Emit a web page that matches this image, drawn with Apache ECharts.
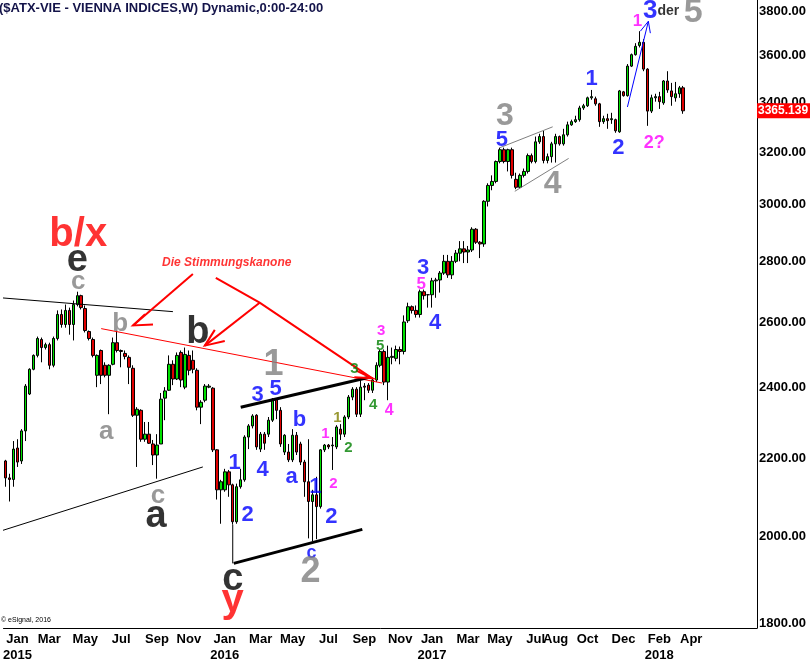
<!DOCTYPE html>
<html><head><meta charset="utf-8">
<script src="https://cdn.jsdelivr.net/npm/echarts@6/dist/echarts.min.js"></script>
<style>html,body{margin:0;padding:0;background:#fff}#c{width:810px;height:663px}</style>
</head><body><div id="c"></div>
<script>
// ---- data (weekly candles, $ATX-VIE) ----
const startWeek = '2014-12-15';
const weekCount = 189;
const opens = [2194,2149,2145,2229,2194,2276,2381,2454,2496,2545,2520,2529,2466,2548,2624,2592,2637,2592,2656,2685,
2643,2570,2545,2436,2511,2466,2436,2469,2535,2511,2502,2490,2457,2320,2334,2253,2267,2240,2210,2240,
2369,2392,2469,2425,2505,2401,2496,2481,2451,2343,2363,2401,2398,2224,2118,2118,2165,2131,2037,2126,
2144,2259,2290,2320,2226,2267,2267,2306,2366,2334,2218,2218,2197,2264,2240,2191,2139,2088,2105,2075,
2224,2237,2235,2232,2281,2267,2315,2372,2395,2323,2404,2407,2392,2422,2466,2508,2416,2490,2487,2514,
2508,2604,2649,2637,2624,2698,2688,2688,2734,2737,2760,2800,2754,2800,2828,2843,2832,2839,2912,2866,
2860,3013,3072,3087,3163,3209,3163,3209,3095,3065,3110,3125,3186,3163,3240,3261,3167,3182,3232,3261,
3232,3268,3308,3321,3329,3377,3386,3419,3415,3394,3321,3333,3329,3329,3280,3444,3428,3554,3604,3645,
3659,3541,3364,3419,3424,3398,3490,3448,3419,3436,3461];
const closes = [2149,2145,2226,2191,2276,2404,2454,2496,2548,2520,2529,2466,2548,2624,2592,2637,2592,2656,2685,2646,
2573,2548,2496,2496,2436,2436,2466,2535,2511,2508,2493,2460,2320,2337,2253,2267,2242,2210,2237,2366,
2390,2469,2425,2496,2422,2499,2451,2454,2343,2357,2404,2404,2224,2118,2139,2165,2131,2037,2126,2144,
2259,2290,2318,2232,2267,2242,2306,2366,2334,2240,2264,2197,2264,2218,2191,2139,2088,2105,2075,2224,
2237,2232,2237,2287,2267,2315,2372,2395,2323,2401,2401,2392,2422,2466,2508,2416,2490,2493,2514,2508,
2600,2649,2637,2624,2698,2685,2688,2734,2737,2760,2800,2754,2800,2828,2843,2832,2839,2912,2866,2860,
3013,3072,3087,3163,3209,3163,3209,3110,3065,3110,3125,3186,3163,3240,3261,3167,3182,3232,3261,3232,
3268,3308,3321,3329,3377,3386,3419,3424,3394,3321,3333,3325,3333,3284,3448,3428,3554,3604,3641,3659,
3541,3364,3419,3424,3403,3490,3452,3424,3436,3461,3365.139];
const lows = [2126,2088,2126,2178,2186,2248,2378,2451,2490,2475,2514,2454,2460,2542,2582,2582,2560,2542,2650,2640,
2567,2542,2490,2401,2410,2430,2323,2466,2505,2460,2484,2410,2315,2178,2246,2246,2240,2183,2147,2240,
2306,2390,2407,2422,2401,2395,2436,2442,2334,2295,2357,2398,2218,2093,2032,2113,2100,2030,2032,2121,
2139,2226,2283,2224,2218,2224,2259,2301,2309,2232,2210,2191,2191,2210,2183,2100,1996,1989,1994,2070,
2218,2226,2170,2226,2251,2259,2309,2363,2315,2315,2363,2384,2384,2416,2460,2407,2363,2469,2478,2469,
2499,2597,2627,2614,2614,2672,2646,2646,2678,2695,2754,2744,2740,2794,2800,2794,2794,2832,2860,2811,
2850,2994,3054,3080,3156,3156,3125,3098,3058,3061,3102,3117,3156,3156,3232,3156,3156,3159,3159,3225,
3225,3261,3304,3316,3321,3369,3381,3411,3386,3300,3312,3292,3312,3276,3276,3424,3424,3550,3600,3636,
3532,3304,3356,3403,3373,3390,3440,3386,3403,3419,3353];
const highs = [2197,2160,2248,2253,2281,2410,2457,2499,2554,2551,2535,2535,2554,2637,2640,2656,2646,2669,2698,2688,
2653,2573,2551,2499,2514,2475,2469,2551,2573,2514,2511,2496,2466,2343,2337,2301,2301,2251,2267,2384,
2401,2496,2481,2505,2511,2520,2511,2511,2457,2363,2410,2410,2401,2226,2144,2173,2170,2134,2134,2173,
2264,2295,2323,2323,2273,2273,2315,2369,2369,2343,2267,2240,2281,2273,2246,2197,2253,2118,2152,2226,
2240,2240,2259,2292,2295,2320,2378,2401,2401,2430,2413,2413,2430,2475,2514,2514,2526,2520,2526,2523,
2621,2662,2653,2653,2705,2705,2690,2744,2744,2767,2822,2822,2818,2839,2870,2870,2853,2919,2916,2870,
3017,3080,3110,3167,3217,3217,3213,3217,3120,3117,3136,3194,3194,3261,3272,3284,3194,3240,3272,3265,
3292,3321,3329,3345,3386,3394,3424,3452,3424,3398,3345,3353,3357,3333,3452,3448,3563,3609,3655,3709,
3673,3545,3432,3436,3444,3494,3532,3482,3486,3469,3469];
const lastPrice = 3365.139;
const yTicks = [1800,2000,2200,2400,2600,2800,3000,3200,3400,3600,3800];
const xTickLabels = [[3,'Jan\n2015'],[11,'Mar'],[20,'May'],[29,'Jul'],[38,'Sep'],[46,'Nov'],
  [55,'Jan\n2016'],[64,'Mar'],[72,'May'],[81,'Jul'],[90,'Sep'],[99,'Nov'],
  [107,'Jan\n2017'],[116,'Mar'],[124,'May'],[133,'Jul'],[138,'Aug'],[146,'Oct'],[155,'Dec'],
  [164,'Feb\n2018'],[172,'Apr']];

// ---- annotations (week index, price) ----
const BLUE='#0000ff', MAG='#ff00ff', GREY='#808080', GRN='#008000', OLV='#808000', RED='#ff0000', BLK='#000000';
const notes = [
  [18.25,2891,'b/x',RED,40],[18,2804,'e',BLK,38],[18.25,2731,'c',GREY,26],[28.75,2595,'b',GREY,26],
  [48.25,2566,'b',BLK,38],[25.25,2273,'a',GREY,26],[38.25,2103,'c',GREY,26],[37.75,2050,'a',BLK,38],
  [67.25,2466,'1',GREY,36],[63.25,2378,'3',BLUE,22],[67.75,2395,'5',BLUE,22],[57.5,2189,'1',BLUE,22],
  [60.75,2055,'2',BLUE,22],[64.5,2170,'4',BLUE,22],[73.75,2306,'b',BLUE,22],[71.75,2152,'a',BLUE,22],
  [77.75,2126,'1',BLUE,22],[81.75,2050,'2',BLUE,22],[76.75,1960,'c',BLUE,18],[76.5,1915,'2',GREY,36],
  [57,1899,'c',BLK,38],[57,1849,'y',RED,40],
  [80.25,2267,'1',MAG,15],[82.25,2134,'2',MAG,15],[83.25,2312,'1',OLV,15],[86,2229,'2',GRN,15],
  [87.5,2454,'3',GRN,15],[92.25,2349,'4',GRN,15],[96.25,2332,'4',MAG,16],[94.25,2573,'3',MAG,15],[94,2526,'5',GRN,15],
  [104.75,2777,'3',BLUE,22],[104.25,2724,'5',MAG,17],[107.75,2598,'4',BLUE,22],
  [125.25,3345,'3',GREY,32],[124.5,3249,'5',BLUE,22],[137.25,3076,'4',GREY,32],
  [147,3499,'1',BLUE,22],[153.75,3217,'2',BLUE,22],[162.75,3237,'2?',MAG,18],
  [158.5,3754,'1',MAG,17],[161.75,3804,'3',BLUE,26],[166.25,3800,'der',BLK,14],[172.5,3795,'5',GREY,34]
];
const caption = [55.5,2794,'Die Stimmungskanone'];
// trend / channel lines: [points, color, width]
const trendLines = [
  [[[-1.2,2678],[42,2633]],BLK,1],
  [[[-1.2,2014],[49.5,2178]],BLK,1],
  [[[24,2579],[94.5,2413]],RED,1],
  [[[59,2343],[91.25,2430]],BLK,3],
  [[[57.25,1936],[89.5,2018]],BLK,3],
  [[[57,2030],[57,1936]],BLK,1],
  [[[124,3217],[137.25,3300]],GREY,1],
  [[[127.75,3050],[141.25,3175]],GREY,1],
  [[[156,3381],[161.25,3754]],BLUE,1],
  [[[159.25,3709],[161.25,3754],[161.75,3700]],BLUE,1],
  [[[47,2757],[32,2589]],RED,2],
  [[[35,2625],[32,2589],[37,2592]],RED,2],
  [[[52.75,2744],[63.75,2662],[92,2427]],RED,2],
  [[[88,2450],[92,2427],[87.5,2430]],RED,2],
  [[[63.75,2662],[50,2526]],RED,2],
  [[[52.5,2575],[50,2526],[55,2540]],RED,2]
];

// ---- build ----
const cats = [];
{ const d0 = new Date(startWeek + 'T00:00:00Z');
  for (let i = 0; i < weekCount; i++) { const d = new Date(d0.getTime() + i*7*86400000); cats.push(d.toISOString().slice(0,10)); } }
const tickMap = {}; xTickLabels.forEach(t => tickMap[t[0]] = t[1]);
const candles = opens.map((o,i) => [o, closes[i], lows[i], highs[i]]);
const FONT = 'Liberation Sans, Arial, sans-serif';

const chart = echarts.init(document.getElementById('c'), null, {renderer:'canvas'});
chart.setOption({
  animation:false,
  backgroundColor:'#ffffff',
  grid:{left:0, right:53, top:0, bottom:31, containLabel:false},
  xAxis:[{
    type:'category', data:cats, boundaryGap:true,
    axisLine:{show:true, onZero:false, lineStyle:{color:'#000', width:1}},
    axisTick:{show:false}, splitLine:{show:false},
    axisLabel:{interval:(i)=>tickMap[i]!==undefined, formatter:(v,i)=>tickMap[i]||'',
      color:'#000', fontFamily:FONT, fontWeight:'bold', fontSize:13, lineHeight:16, margin:3}
  },{
    type:'value', min:-0.5, max:weekCount-0.5, show:false
  }],
  yAxis:[{
    type:'log', logBase:10, min:1789, max:3853, position:'right',
    axisLine:{show:true, onZero:false, lineStyle:{color:'#000', width:1}},
    axisTick:{show:false}, splitLine:{show:false}, minorSplitLine:{show:false},
    axisLabel:{customValues:yTicks, formatter:(v)=>Number(v).toFixed(2), color:'#000',
      fontFamily:FONT, fontWeight:'bold', fontSize:13, margin:2, showMinLabel:true, showMaxLabel:true}
  }],
  graphic:[
    {type:'text', left:-1, top:2, style:{text:'($ATX-VIE - VIENNA INDICES,W) Dynamic,0:00-24:00', fill:'#14144a',
      font:'bold 13px '+FONT}},
    {type:'text', left:1, top:617, style:{text:'\u00a9 eSignal, 2016', fill:'#000', font:'7px '+FONT}}
  ],
  series:[
    {type:'candlestick', data:candles, xAxisIndex:0, yAxisIndex:0, barWidth:3,
      itemStyle:{color:'#00e000', color0:'#e00000', borderColor:'#000', borderColor0:'#000', borderWidth:1},
      markLine:{silent:true, symbol:['none','none'], animation:false, z:10,
        lineStyle:{color:'rgba(0,0,0,0)', width:1, type:'solid'},
        label:{show:true},
        data:[{yAxis:lastPrice, lineStyle:{color:'rgba(0,0,0,0)'}, label:{show:true, position:'end', distance:0, formatter:String(lastPrice),
          backgroundColor:'#ff0000', color:'#fff', fontFamily:FONT, fontWeight:'bold', fontSize:12, padding:[2,2,1,1]}}]}
    },
    {type:'lines', coordinateSystem:'cartesian2d', xAxisIndex:1, yAxisIndex:0, polyline:true, silent:true, z:3,
      data:trendLines.map(l=>({coords:l[0], lineStyle:{color:l[1], width:l[2], opacity:1}}))
    },
    {type:'scatter', xAxisIndex:1, yAxisIndex:0, symbolSize:1, itemStyle:{color:'rgba(0,0,0,0)'}, silent:true, z:5,
      data:notes.map(n=>({value:[n[0],n[1]], label:{show:true, position:'inside', formatter:n[2], color:n[3],
        fontSize:n[4], fontWeight:'bold', fontFamily:FONT}})).concat([{value:[caption[0],caption[1]],
        label:{show:true, position:'inside', formatter:caption[2], color:RED, fontSize:12, fontWeight:'bold', fontStyle:'italic', fontFamily:FONT}}])
    }
  ]
});
</script></body></html>
